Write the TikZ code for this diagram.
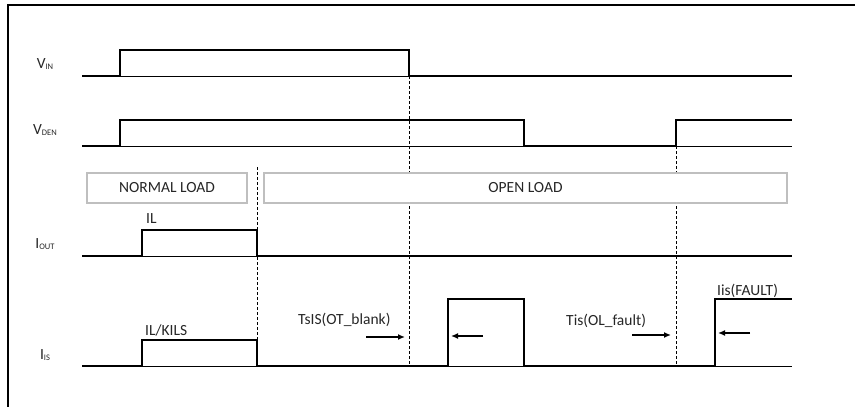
\documentclass[tikz,border=0pt]{standalone}
\usepackage{fontspec}
\setmainfont{Carlito}
\usetikzlibrary{arrows.meta}
\newcommand{\lowtag}[1]{\raisebox{-1.5pt}{\fontsize{8.5}{9}\selectfont #1}}

\begin{document}
\begin{tikzpicture}[x=1pt,y=-1pt,
    wave/.style={line width=2.6pt, line join=miter},
    base/.style={line width=0.9pt},
    guide/.style={line width=0.8pt, dash pattern=on 3pt off 2pt},
    zone/.style={draw=black!25, line width=2pt, fill=white, minimum height=30pt,
      inner sep=0pt, text=black!85, font=\fontsize{15.5}{18}\selectfont},
    sig/.style={anchor=base, inner sep=0pt, text=black!85, font=\fontsize{15.5}{18}\selectfont},
    note/.style={anchor=base west, inner sep=0pt, text=black!85, font=\fontsize{15.5}{18}\selectfont},
    ptr/.style={line width=1.3pt, -{Latex[length=7pt,width=6pt]}}]
  \useasboundingbox (0,0) rectangle (855,407);
  \draw[line width=2.4pt] (8,407) -- (8,5) -- (855,5);

  % signal names
  \node[sig] (vin) at (45,68) {V\lowtag{IN}};
  \node[sig] (vden) at (45,134) {V\lowtag{DEN}};
  \node[sig] (iout) at (45,248) {I\lowtag{OUT}};
  \node[sig] (iis) at (45,359) {I\lowtag{IS}};

  % guides
  \draw[guide] (257,167) -- (257,366);
  \draw[guide] (409,76) -- (409,366);
  \draw[guide] (676,146) -- (676,366);

  % load phases
  \node[zone, minimum width=160pt] (normal) at (167,188) {NORMAL LOAD};
  \node[zone, minimum width=523pt] (open) at (525.5,188) {OPEN LOAD};

  % V_IN
  \draw[base] (120,76) -- (409,76);
  \draw[wave] (82,76) -- (120,76) -- (120,50) -- (409,50) -- (409,76) -- (792,76);
  % V_DEN
  \draw[base] (120,146) -- (524,146) (676,146) -- (792,146);
  \draw[wave] (82,146) -- (120,146) -- (120,120) -- (524,120) -- (524,146)
    -- (676,146) -- (676,120) -- (792,120);
  % I_OUT
  \draw[base] (142,256) -- (257,256);
  \draw[wave] (82,256) -- (142,256) -- (142,230) -- (257,230) -- (257,256) -- (792,256);
  % I_IS
  \draw[base] (142,366) -- (257,366) (448,366) -- (524,366) (715,366) -- (792,366);
  \draw[wave] (82,366) -- (142,366) -- (142,340) -- (257,340) -- (257,366)
    -- (448,366) -- (448,299) -- (524,299) -- (524,366)
    -- (715,366) -- (715,299) -- (792,299);

  % levels and times
  \node[note] (il) at (146,223) {IL};
  \node[note] (ilk) at (145,335) {IL/KILS};
  \node[note] (tblank) at (298,324) {TsIS(OT\_blank)};
  \node[note] (tfault) at (566,325) {Tis(OL\_fault)};
  \node[note] (ifault) at (717,295) {Iis(FAULT)};

  \coordinate (b1) at (366,337);
  \coordinate (b2) at (405,337);
  \coordinate (p1) at (483,336);
  \coordinate (p2) at (451,336);
  \coordinate (f1) at (632,335);
  \coordinate (f2) at (671,335);
  \coordinate (q1) at (750,333);
  \coordinate (q2) at (718,333);
  \draw[ptr] (b1) -- (b2);
  \draw[ptr] (p1) -- (p2);
  \draw[ptr] (f1) -- (f2);
  \draw[ptr] (q1) -- (q2);
\end{tikzpicture}
\end{document}
